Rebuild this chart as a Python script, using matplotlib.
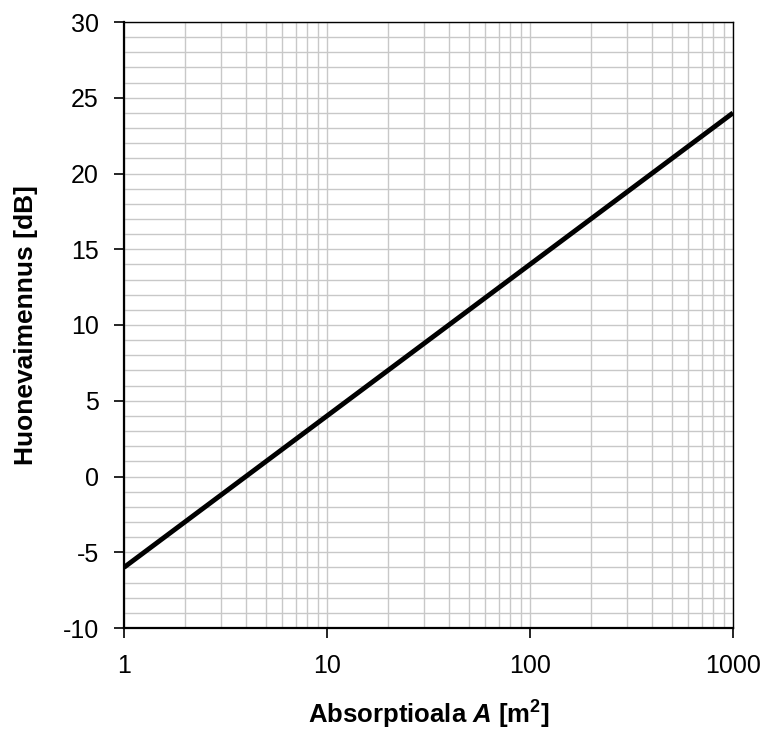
import numpy as np
import matplotlib.pyplot as plt
from matplotlib.ticker import MultipleLocator, LogLocator, FixedLocator

# absorption area [m2] and room attenuation [dB]
area = [1, 1000]
attenuation = [-6, 24]

x_ticks = [1, 10, 100, 1000]
x_labels = ["1", "10", "100", "1000"]
y_ticks = [-10, -5, 0, 5, 10, 15, 20, 25, 30]

plt.rcParams['font.family'] = ['Liberation Sans', 'DejaVu Sans']
plt.rcParams['axes.unicode_minus'] = False
plt.rcParams['mathtext.fontset'] = 'custom'
plt.rcParams['mathtext.it'] = 'Liberation Sans:italic:bold'
plt.rcParams['mathtext.bf'] = 'Liberation Sans:bold'

fig = plt.figure(figsize=(7.63, 7.36), dpi=100)
ax = fig.add_axes([124 / 763, 1 - 628 / 736, (733 - 124) / 763, (628 - 22) / 736])

ax.plot(area, attenuation, color='black', lw=3.5, solid_capstyle='butt', zorder=3)

ax.set_xscale('log')
ax.set_xlim(1, 1000)
ax.set_ylim(-10, 30)

ax.xaxis.set_major_locator(FixedLocator(x_ticks))
ax.set_xticklabels(x_labels)
ax.xaxis.set_minor_locator(LogLocator(base=10, subs=np.arange(2, 10)))
ax.yaxis.set_major_locator(FixedLocator(y_ticks))
ax.yaxis.set_minor_locator(MultipleLocator(1))

ax.grid(which='both', color='#c8c8c8', lw=1.0, zorder=0)
ax.set_axisbelow(True)

ax.tick_params(which='major', direction='out', length=7, width=1.2, labelsize=18)
ax.tick_params(which='minor', length=0)
ax.tick_params(axis='x', pad=12)
ax.tick_params(axis='y', pad=11)

for s in ['left', 'bottom']:
    ax.spines[s].set_linewidth(1.6)
for s in ['top', 'right']:
    ax.spines[s].set_linewidth(1.0)

ax.set_ylabel("Huonevaimennus [dB]", fontsize=19, fontweight='bold', labelpad=18)
ax.set_xlabel(r"Absorptioala $\mathit{A}$ [m$^\mathbf{2}$]", fontsize=18.5, fontweight='bold', labelpad=15)

fig.savefig("out.png", dpi=100)
